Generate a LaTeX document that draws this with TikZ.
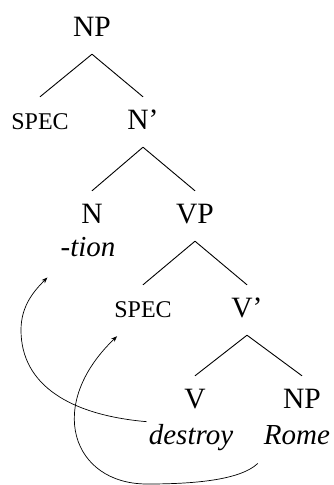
\documentclass[tikz,border=0pt]{standalone}
\usepackage{fontspec}
\setmainfont{Liberation Serif}
\usetikzlibrary{arrows.meta, calc}

\tikzset{
    cat/.style={font=\fontsize{29.5}{34}\selectfont, text height=32pt, text depth=18pt, inner sep=0pt, anchor=base},
    spec/.style={cat, font=\fontsize{24}{28}\selectfont},
    word/.style={font=\fontsize{29}{34}\selectfont\itshape, inner sep=2pt, anchor=base},
    branch/.style={line width=0.9pt},
    move/.style={line width=0.7pt, -{Stealth[length=6pt,width=4.5pt]}}
}

\begin{document}
\begin{tikzpicture}[x=1pt, y=-1pt]
    \useasboundingbox (0,0) rectangle (333,485);

    % categories
    \node[cat]  (np1)   at (92,36)   {NP};
    \node[spec] (spec1) at (40,129)  {SPEC};
    \node[cat]  (nbar)  at (143,129) {N'};
    \node[cat]  (n)     at (92,223)  {N};
    \node[cat]  (vp)    at (195,223) {VP};
    \node[spec] (spec2) at (143,317) {SPEC};
    \node[cat]  (vbar)  at (247,317) {V'};
    \node[cat]  (v)     at (195,408) {V};
    \node[cat]  (np2)   at (302,408) {NP};

    % words
    \node[word] (tion)    at (88,256)  {-tion};
    \node[word] (destroy) at (191,444) {destroy};
    \node[word] (rome)    at (297,444) {Rome};

    % branches
    \foreach \a/\b in {np1/spec1, np1/nbar, nbar/n, nbar/vp, vp/spec2, vp/vbar, vbar/v, vbar/np2}
        \draw[branch] (\a.south) -- (\b.north);

    % movement
    \coordinate (tiontgt) at ($(tion.south west)+(-11,19)$);
    \coordinate (spectgt) at ($(spec2.south west)+(3,1)$);
    \coordinate (romesrc) at ($(rome.south west)+(-4,17)$);
    \draw[move] (destroy.north west) .. controls (70,415) and (21,385) .. (21,330)
        .. controls (21,305) and (35,290) .. (tiontgt);
    \draw[move] (romesrc) .. controls (240,480) and (195,484) .. (147,484)
        .. controls (72,484) and (45,405) .. (spectgt);
\end{tikzpicture}
\end{document}
